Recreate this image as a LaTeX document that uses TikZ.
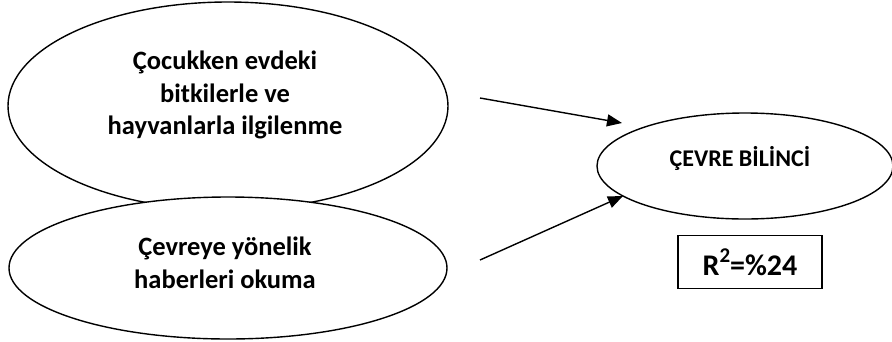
\documentclass[tikz,border=0pt]{standalone}
\usepackage{fontspec}
\setmainfont{Carlito}
\usetikzlibrary{shapes.geometric,arrows.meta}

\begin{document}
\begin{tikzpicture}[x=1pt,y=-1pt,
    oval/.style={draw, ellipse, line width=1.4pt, fill=white, inner sep=0pt},
    txt/.style={align=center, font=\fontsize{26.5}{32.5}\selectfont\bfseries},
    arr/.style={line width=1.4pt, -{Triangle[length=15pt,width=12pt]}}]
    \useasboundingbox (0,0) rectangle (892,341);

    % left side
    \node[oval, minimum width=440, minimum height=208] (kid) at (228,106) {};
    \node[oval, minimum width=438, minimum height=142] (news) at (228,268) {};
    \node[txt] (kidt) at (225,95) {Çocukken evdeki\\bitkilerle ve\\hayvanlarla ilgilenme};
    \node[txt] (newst) at (225,263) {Çevreye yönelik\\haberleri okuma};

    % right side
    \node[oval, minimum width=296, minimum height=106] (aware) at (745,166) {};
    \node[txt, font=\fontsize{24}{28}\selectfont\bfseries] (awaret) at (740,158) {ÇEVRE BİLİNCİ};
    \node[draw, line width=1.4pt, minimum width=144, minimum height=53, inner sep=0pt,
          font=\fontsize{30}{34}\selectfont\bfseries] (rsq) at (750,262)
          {R\raisebox{0.42em}{\fontsize{21}{21}\selectfont 2}=\%24};

%    \draw[gray!30] (0,0) grid[step=50] (892,341);

    \coordinate (a1) at (480,98);
    \coordinate (b1) at (622,123);
    \coordinate (a2) at (480,260);
    \coordinate (b2) at (623,196);
    \draw[arr] (a1) -- (b1);
    \draw[arr] (a2) -- (b2);

\end{tikzpicture}
\end{document}
